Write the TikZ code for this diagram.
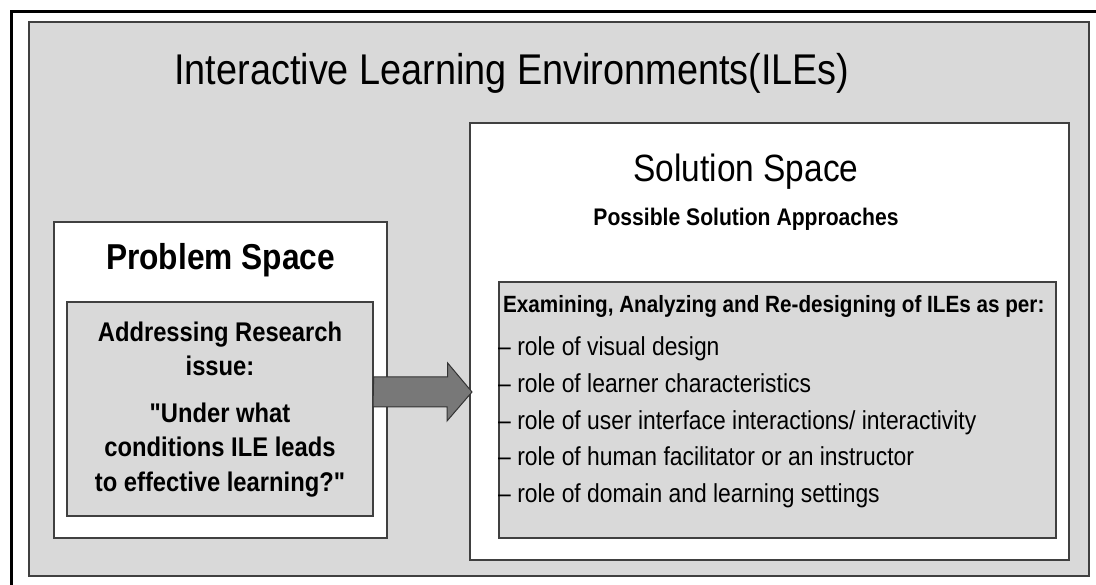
\documentclass[tikz,border=0pt]{standalone}
\usepackage{fontspec}
\setmainfont{Liberation Sans}[FakeStretch=0.88]
\usepackage{xcolor}
\usepackage{tikz}
\usetikzlibrary{positioning}

\begin{document}
\begin{tikzpicture}[x=1pt,y=-1pt,
    panel/.style={draw=black!75,fill=black!15,line width=1.3pt,rectangle,inner sep=0pt},
    space/.style={draw=black!75,fill=white,line width=1.3pt,rectangle,inner sep=0pt},
    bigarrow/.style={draw=black!80,fill=black!53,line width=1pt,line join=miter},
    heading/.style={inner sep=0pt,anchor=base}]
\useasboundingbox (0,0) rectangle (1096,585);
\draw[line width=3pt] (1110,11.5) -| (11.5,600);

\node[panel] (ile) [minimum width=1060, minimum height=554] at (559,299) {};
\node[heading, font=\fontsize{43}{50}\selectfont] (title) at (512,85)
    {Interactive Learning Environments(ILEs)};

% problem side
\node[space] (probbox) [minimum width=333, minimum height=316] at (220.5,380) {};
\node[heading, font=\fontsize{36}{42}\bfseries\selectfont] (probhead) at (220.5,270)
    {Problem Space};
\node[panel] (pinner) [minimum width=306, minimum height=214] at (220,409) {};
\node[inner sep=0pt, anchor=north, align=center,
    font=\fontsize{27}{34.5}\bfseries\selectfont\addfontfeatures{Ligatures=TeXOff}] (issue) at (220,321.7)
    {Addressing Research\\ issue:\\[12pt] "Under what\\ conditions ILE leads\\ to effective learning?"};

% solution side
\node[space] (solbox) [minimum width=599, minimum height=437] at (769.5,341.5) {};
\node[heading, font=\fontsize{38}{44}\selectfont] (solhead) at (746,182) {Solution Space};
\node[heading, font=\fontsize{24}{28}\bfseries\selectfont] (solsub) at (746,226)
    {Possible Solution Approaches};
\node[panel] (sinner) [minimum width=557, minimum height=256] at (777.5,410) {};
\node[heading, anchor=base west, font=\fontsize{23.5}{27}\bfseries\selectfont] (exam)
    at (503,313) {Examining, Analyzing and Re-designing of ILEs as per:};
\node[inner sep=0pt, anchor=north west, align=left,
    font=\fontsize{26}{36.75}\selectfont] (roles) at (498,336.5)
    {\textendash{} role of visual design\\
     \textendash{} role of learner characteristics\\
     \textendash{} role of user interface interactions/ interactivity\\
     \textendash{} role of human facilitator or an instructor\\
     \textendash{} role of domain and learning settings};

\coordinate (tip) at (472,392);
\draw[bigarrow] (pinner.east |- tip) ++(0,-15) -- ++(74,0) -- ++(0,-14) -- (tip)
    -- ++(-25,29) -- ++(0,-14) -- ++(-74,0) -- cycle;
\end{tikzpicture}
\end{document}
